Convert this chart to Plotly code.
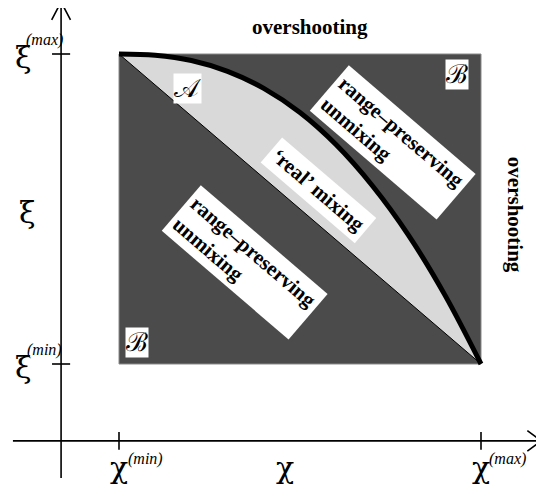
import plotly.graph_objects as go

# Schematic values in normalised units: chi_min = 0, chi_max = 1, xi_min = 0, xi_max = 1
chi_pts = [0.0, 0.1, 0.2, 0.3, 0.4, 0.5, 0.6, 0.7, 0.8, 0.9, 1.0]
xi_curve = [1.0, 0.996, 0.979, 0.944, 0.889, 0.811, 0.707, 0.575, 0.415, 0.223, 0.0]
diag_chi = [0.0, 1.0]
diag_xi = [1.0, 0.0]
chi_ticks = [0.0, 1.0]
xi_ticks = [0.0, 1.0]
chi_tick_labels = ["χ", "χ"]
chi_tick_sups = ["(min)", "(max)"]
xi_tick_labels = ["ξ", "ξ"]
xi_tick_sups = ["(min)", "(max)"]

DARK = "#4b4b4b"
LIGHT = "#d9d9d9"
SERIF = "Liberation Serif, Times New Roman, serif"
GREEK = "DejaVu Serif, serif"

# axis geometry (normalised units)
AX_X = -0.160   # position of vertical axis
AX_Y = -0.248   # position of horizontal axis
X_MIN, X_MAX = -0.293, 1.166
Y_MIN, Y_MAX = -0.368, 1.168

fig = go.Figure()

# light region between diagonal and curve
fig.add_trace(go.Scatter(
    x=chi_pts + [diag_chi[0]], y=xi_curve + [diag_xi[0]],
    fill="toself", fillcolor=LIGHT, mode="none", hoverinfo="skip", showlegend=False))
# diagonal
fig.add_trace(go.Scatter(x=diag_chi, y=diag_xi, mode="lines",
                         line=dict(color="black", width=1), showlegend=False))
# thick curve
fig.add_trace(go.Scatter(x=chi_pts, y=xi_curve, mode="lines",
                         line=dict(color="black", width=5, shape="spline"), showlegend=False))

# axes with open arrow heads
fig.add_trace(go.Scatter(x=[X_MIN, X_MAX], y=[AX_Y, AX_Y], mode="lines",
                         line=dict(color="black", width=1.6), showlegend=False))
fig.add_trace(go.Scatter(x=[AX_X, AX_X], y=[Y_MIN, Y_MAX], mode="lines",
                         line=dict(color="black", width=1.6), showlegend=False))
fig.add_trace(go.Scatter(x=[X_MAX - 0.038, X_MAX, X_MAX - 0.038],
                         y=[AX_Y + 0.033, AX_Y, AX_Y - 0.033], mode="lines",
                         line=dict(color="black", width=1.6), showlegend=False))
fig.add_trace(go.Scatter(x=[AX_X - 0.026, AX_X, AX_X + 0.026],
                         y=[Y_MAX - 0.058, Y_MAX, Y_MAX - 0.058], mode="lines",
                         line=dict(color="black", width=1.6), showlegend=False))

shapes = []
# dark square
shapes.append(dict(type="rect", xref="x", yref="y", x0=chi_ticks[0], x1=chi_ticks[1],
                   y0=xi_ticks[0], y1=xi_ticks[1], fillcolor=DARK,
                   line=dict(color="#8a8a8a", width=1), layer="below"))
# tick marks
for c in chi_ticks:
    shapes.append(dict(type="line", xref="x", yref="y", x0=c, x1=c,
                       y0=AX_Y - 0.029, y1=AX_Y + 0.029, line=dict(color="black", width=1.6)))
for v in xi_ticks:
    shapes.append(dict(type="line", xref="x", yref="y", x0=AX_X - 0.025, x1=AX_X + 0.025,
                       y0=v, y1=v, line=dict(color="black", width=1.6)))

ann = []
def txt(x, y, t, size, bold=False, italic=False, angle=0, bg=None, pad=0, align="center",
        family=SERIF):
    s = t
    if italic:
        s = "<i>" + s + "</i>"
    if bold:
        s = "<b>" + s + "</b>"
    d = dict(x=x, y=y, xref="x", yref="y", text=s, showarrow=False, textangle=angle,
             font=dict(family=family, size=size, color="black"), align=align,
             xanchor="center", yanchor="middle")
    if bg:
        d.update(bgcolor=bg, borderpad=pad)
    ann.append(d)

# tick labels
for c, lab, sup in zip(chi_ticks, chi_tick_labels, chi_tick_sups):
    txt(c + 0.000, -0.335, lab, 30, family=GREEK)
    txt(c + 0.074, -0.305, sup, 16, italic=True)
for v, lab, sup in zip(xi_ticks, xi_tick_labels, xi_tick_sups):
    txt(-0.263, v - 0.012, lab, 30, family=GREEK)
    txt(-0.205, v + 0.045, sup, 16, italic=True)
# axis titles
txt(0.459, -0.335, "χ", 30, family=GREEK)
txt(-0.254, 0.49, "ξ", 30, family=GREEK)

# region labels
txt(0.528, 1.087, "overshooting", 21, bold=True)
txt(1.094, 0.481, "overshooting", 21, bold=True, angle=90)
txt(0.188, 0.890, "𝒜", 26, bg="white", pad=0)
txt(0.934, 0.935, "ℬ", 26, bg="white", pad=0)
txt(0.050, 0.068, "ℬ", 26, bg="white", pad=0)
txt(0.348, 0.329, "range–preserving<br>unmixing", 21, bold=True, angle=40.6,
    bg="white", pad=4, align="left")
txt(0.757, 0.716, "range–preserving<br>unmixing", 21, bold=True, angle=40.6,
    bg="white", pad=4, align="left")
txt(0.550, 0.561, "‘real’ mixing", 21, bold=True, angle=40.6, bg="white", pad=4)

# the page adds an 8 px body margin; the figure is sized and mapped to compensate
W, H, OFF = 544, 487, 8
X0_PX, Y0_PX, SX, SY = 119 - OFF, 364 - OFF, 362, 310
fig.update_layout(
    width=W - OFF, height=H - OFF, margin=dict(l=0, r=0, t=0, b=0),
    paper_bgcolor="white", plot_bgcolor="white", showlegend=False,
    shapes=shapes, annotations=ann,
    xaxis=dict(range=[-X0_PX / SX, (W - OFF - X0_PX) / SX], visible=False, fixedrange=True),
    yaxis=dict(range=[-(H - OFF - Y0_PX) / SY, Y0_PX / SY], visible=False, fixedrange=True),
)
fig.write_html("out.html")
